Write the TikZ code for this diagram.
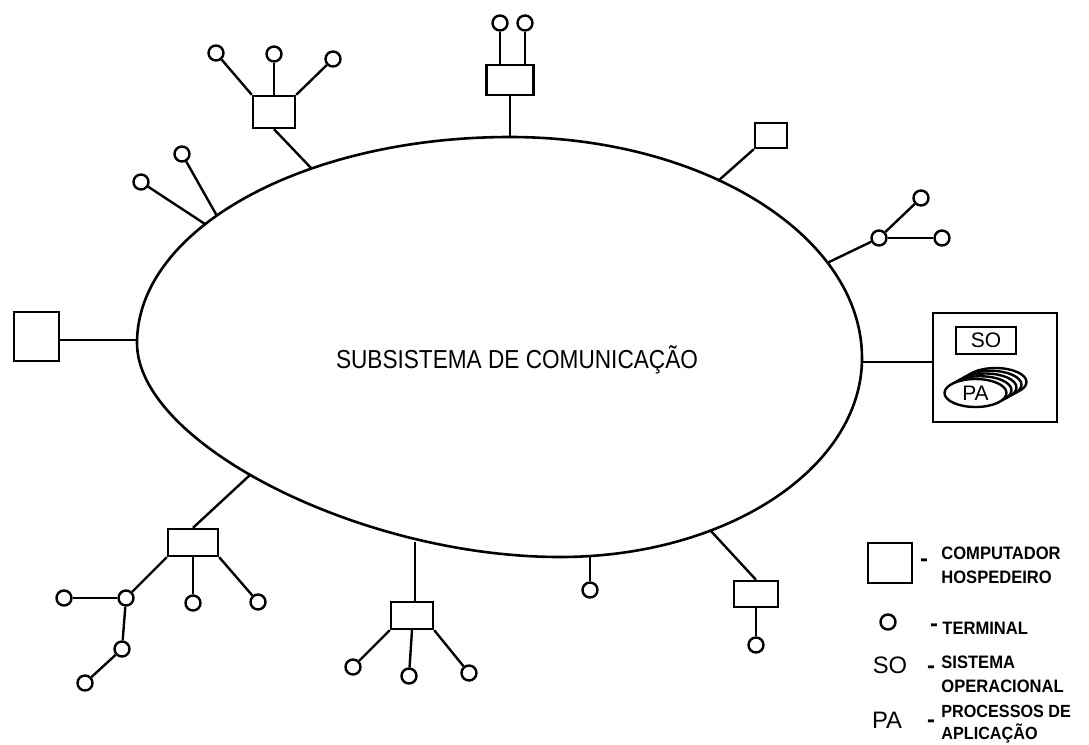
\documentclass[tikz,border=0pt]{standalone}
\usepackage{fontspec}
\setmainfont{Liberation Sans}
\newfontfamily\ringfont[FakeStretch=0.87]{Liberation Sans}
\newfontfamily\legfont[FakeStretch=0.92]{Liberation Sans}
\usepackage{tikz}
\usetikzlibrary{shapes,positioning}
\tikzstyle{host} = [rectangle, draw, line width=1.2pt, inner sep=0pt]
\tikzstyle{term} = [circle, draw, line width=1.2pt, inner sep=0pt, minimum size=7.5pt]
\tikzstyle{disc} = [ellipse, draw, fill=white, line width=1.2pt, inner sep=0pt,
    minimum width=31pt, minimum height=14pt, font=\fontsize{10.5}{12}\selectfont]
\tikzstyle{wire} = [draw, line width=1.2pt]
\tikzstyle{legtext} = [anchor=west, align=left, inner sep=0pt,
    font=\legfont\fontsize{9}{12}\selectfont\bfseries]
\tikzstyle{legdash} = [inner sep=0pt, font=\fontsize{11.9}{13}\selectfont\bfseries]
\tikzstyle{legsym} = [inner sep=0pt, font=\fontsize{11.9}{13}\selectfont]

\begin{document}
\begin{tikzpicture}[x=0.5pt, y=-0.5pt]
    \useasboundingbox (0,0) rectangle (1089,745);
    % Points on the ring
    \coordinate (c-hD) at (137,340);
    \coordinate (c-t1) at (205,224);
    \coordinate (c-t2) at (217,216);
    \coordinate (c-hA) at (312,169);
    \coordinate (c-hB) at (510,137);
    \coordinate (c-hC) at (718,181);
    \coordinate (c-tR) at (827,263);
    \coordinate (c-main) at (862,362);
    \coordinate (c-hG) at (710,530);
    \coordinate (c-t3) at (590,556);
    \coordinate (c-hF) at (415,542);
    \coordinate (c-hE) at (250,475);
    % Draw the ring
    \draw [line width=1.3pt] (137,343) .. controls (137,229) and (304,137) .. (510,137)
        .. controls (704,137) and (862,236) .. (862,358)
        .. controls (862,468) and (727,557) .. (560,557)
        .. controls (360,557) and (137,443) .. cycle;
    \node [font=\ringfont\fontsize{13}{15}\selectfont] (netLabel) at (517,360) {SUBSISTEMA DE COMUNICAÇÃO};
    % Place nodes
    \node [host, minimum width=21pt, minimum height=16pt] (hostA) at (274,112) {};
    \node [term] (tA1) at (216,53) {};
    \node [term] (tA2) at (274,54) {};
    \node [term] (tA3) at (333,59) {};
    \node [term] (t1) at (141,182) {};
    \node [term] (t2) at (182,154) {};
    \node [host, minimum width=23.5pt, minimum height=15pt] (hostB) at (510,80) {};
    \node [term] (tB1) at (500,23) {};
    \node [term] (tB2) at (525,23) {};
    \node [host, minimum width=16pt, minimum height=12.5pt] (hostC) at (771,135.5) {};
    \node [term] (tR0) at (879,238) {};
    \node [term] (tR1) at (921,198) {};
    \node [term] (tR2) at (942,238) {};
    \node [host, minimum width=62pt, minimum height=54.5pt] (mainHost) at (995,367.5) {};
    \node [host, minimum width=30pt, minimum height=13.5pt, font=\fontsize{10.5}{12}\selectfont] (so) at (986,340.5) {SO};
    \foreach \i in {4,3,2,1}
        \node [disc] (pa\i) at ({975.5+5*\i},{393-2.75*\i}) {};
    \node [disc] (pa) at (975.5,393) {PA};
    \node [host, minimum width=22.5pt, minimum height=24.5pt] (hostD) at (36.5,336.5) {};
    \node [host, minimum width=25pt, minimum height=13.5pt] (hostE) at (193,542.5) {};
    \node [term] (tE0) at (126,598) {};
    \node [term] (tE1) at (64,598) {};
    \node [term] (tE2) at (122,649) {};
    \node [term] (tE3) at (85,683) {};
    \node [term] (tE4) at (193,603) {};
    \node [term] (tE5) at (258,602) {};
    \node [host, minimum width=21pt, minimum height=13.5pt] (hostF) at (412,615.5) {};
    \node [term] (tF1) at (353,667) {};
    \node [term] (tF2) at (409,676) {};
    \node [term] (tF3) at (469,673) {};
    \node [term] (t3) at (590,590) {};
    \node [host, minimum width=22pt, minimum height=13pt] (hostG) at (756,594) {};
    \node [term] (tG1) at (756,645) {};
    % Draw edges
    \path [wire] (c-hA) -- (hostA.south);
    \path [wire] (hostA.north west) -- (tA1);
    \path [wire] (hostA.north) -- (tA2);
    \path [wire] (hostA.north east) -- (tA3);
    \path [wire] (c-t1) -- (t1);
    \path [wire] (c-t2) -- (t2);
    \path [wire] (c-hB) -- (c-hB |- hostB.south);
    \path [wire] (tB1) -- (tB1 |- hostB.north);
    \path [wire] (tB2) -- (tB2 |- hostB.north);
    \path [wire] (c-hC) -- (hostC.south west);
    \path [wire] (c-tR) -- (tR0);
    \path [wire] (tR0) -- (tR1);
    \path [wire] (tR0) -- (tR2);
    \path [wire] (c-main) -- (c-main -| mainHost.west);
    \path [wire] (c-hD -| hostD.east) -- (c-hD);
    \path [wire] (c-hE) -- (hostE.north);
    \path [wire] (hostE.south west) -- (tE0);
    \path [wire] (tE0) -- (tE1);
    \path [wire] (tE0) -- (tE2);
    \path [wire] (tE2) -- (tE3);
    \path [wire] (hostE.south) -- (tE4);
    \path [wire] (hostE.south east) -- (tE5);
    \path [wire] (c-hF) -- (c-hF |- hostF.north);
    \path [wire] (hostF.south west) -- (tF1);
    \path [wire] (hostF.south) -- (tF2);
    \path [wire] (hostF.south east) -- (tF3);
    \path [wire] (c-t3) -- (t3);
    \path [wire] (c-hG) -- (hostG.north);
    \path [wire] (hostG.south) -- (tG1);
    % Legend
    \node [host, minimum width=22pt, minimum height=20pt] (legHost) at (890,563) {};
    \node [legdash] (legHostDash) at (924,563) {-};
    \node [legtext] (legHostText) at (941,565) {COMPUTADOR\\HOSPEDEIRO};
    \node [term] (legTerm) at (888,622) {};
    \node [legdash] (legTermDash) at (934,628) {-};
    \node [legtext] (legTermText) at (942,628) {TERMINAL};
    \node [legsym] (legSo) at (890,665) {SO};
    \node [legdash] (legSoDash) at (931,670) {-};
    \node [legtext] (legSoText) at (941,674) {SISTEMA\\OPERACIONAL};
    \node [legsym] (legPa) at (887,720) {PA};
    \node [legdash] (legPaDash) at (931,724) {-};
    \node [legtext, font=\legfont\fontsize{8.8}{11}\selectfont\bfseries] (legPaText) at (941,724) {PROCESSOS DE\\APLICAÇÃO};
\end{tikzpicture}
\end{document}
